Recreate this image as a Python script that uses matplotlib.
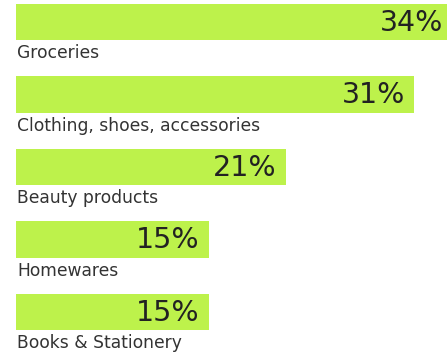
import matplotlib.pyplot as plt

categories = ['Groceries', 'Clothing, shoes, accessories', 'Beauty products',
              'Homewares', 'Books & Stationery']
shares = [34, 31, 21, 15, 15]

plt.rcParams['font.family'] = ['DejaVu Sans']

fig = plt.figure(figsize=(4.47, 3.52), dpi=100)
ax = fig.add_axes([16 / 447, 0, 431 / 447, 1])

bar_h = 0.5
ax.barh(range(len(shares)), shares, height=bar_h, color='#bdf24b')

for i, (name, v) in enumerate(zip(categories, shares)):
    # value sits inside the bar, right aligned; first bar runs off the edge
    ax.annotate(f'{v}%', xy=(v, i), xytext=(-9, -1), textcoords='offset pixels',
                ha='right', va='center', fontsize=20.5, color='#222222',
                annotation_clip=False)
    ax.annotate(name, xy=(0, i + bar_h / 2), xytext=(1, -4), textcoords='offset pixels',
                ha='left', va='top', fontsize=12.3, color='#333333')

ax.set_xlim(0, 431 / 12.84)
ax.set_ylim(-0.303 + 352 / 72.5, -0.303)
ax.axis('off')

plt.savefig('out.png', dpi=100)
